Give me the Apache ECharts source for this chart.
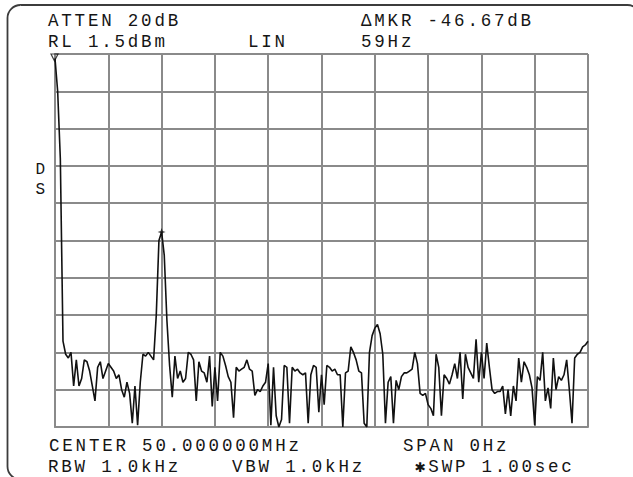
<!DOCTYPE html>
<html>
<head>
<meta charset="utf-8">
<script src="https://cdn.jsdelivr.net/npm/echarts@6/dist/echarts.min.js"></script>
<style>
html,body{margin:0;padding:0;background:#fff;}
#c{width:633px;height:477px;}
#c text{letter-spacing:2.8px;}
</style>
</head>
<body>
<div id="c"></div>
<script>
// Sweep: 1.00 sec, trace sampled every 5 ms (values in graticule divisions, LIN scale)
const sweepMs = 1000;
const sampleMs = 5;
const traceValues = [
  9.88, 9.0, 7.2, 2.3, 1.95, 1.85, 2.0, 1.1, 1.8, 1.1,
  1.3, 1.8, 1.75, 1.5, 1.1, 0.7, 1.6, 1.75, 1.3, 1.5,
  1.7, 1.6, 1.5, 1.3, 1.4, 1.0, 0.8, 1.2, 0.9, 0.1,
  1.1, 0.05, 1.2, 1.95, 1.9, 2.0, 1.9, 1.8, 3.0, 5.0,
  5.23, 4.6, 2.85, 1.65, 0.8, 1.9, 1.3, 1.5, 1.2, 1.3,
  2.0, 1.95, 1.8, 0.7, 1.75, 1.5, 1.45, 1.2, 1.9, 0.55,
  1.6, 0.7, 2.0, 1.9, 1.65, 1.35, 1.2, 0.25, 1.6, 1.5,
  1.55, 1.6, 1.8, 1.55, 1.5, 0.85, 1.0, 0.95, 1.1, 1.2,
  1.7, 0.05, 1.6, 0.3, 0.0, 0.2, 1.65, 1.6, 0.1, 1.6,
  1.5, 1.55, 1.45, 1.4, 1.45, 0.1, 1.4, 1.65, 1.6, 0.4,
  1.4, 0.6, 1.65, 1.6, 1.5, 1.55, 1.4, 1.4, 0.0, 1.45,
  1.5, 2.15, 2.0, 1.8, 1.5, 1.45, 0.1, 0.0, 2.0, 2.45,
  2.65, 2.75, 2.5, 1.95, 0.1, 1.2, 1.35, 0.1, 1.25, 1.0,
  1.35, 1.45, 1.45, 1.5, 1.55, 2.0, 1.7, 0.9, 0.85, 0.9,
  0.6, 0.5, 0.3, 1.95, 1.6, 0.3, 1.4, 1.3, 1.15, 1.4,
  1.7, 1.3, 2.0, 0.75, 1.95, 1.6, 1.45, 1.3, 2.35, 1.2,
  2.0, 1.3, 2.25, 1.6, 1.0, 0.9, 0.95, 0.95, 1.1, 0.35,
  1.0, 0.3, 1.1, 0.7, 1.85, 1.2, 1.75, 1.6, 1.4, 1.05,
  0.05, 1.35, 1.25, 2.0, 0.7, 1.05, 0.5, 1.85, 1.0, 1.35,
  1.25, 1.4, 1.8, 1.0, 0.1, 1.85, 1.95, 2.0, 2.15, 2.2, 2.3
];
const refMarkerIndex = 0;   // ▽ reference marker
const deltaMarkerIndex = 40; // ✦ delta marker (peak)
const xDivisions = 10;
const yDivisions = 10;

const headerTexts = ['ATTEN 20dB', '\u0394MKR -46.67dB', 'RL 1.5dBm', 'LIN', '59Hz'];
const footerTexts = ['CENTER 50.000000MHz', 'SPAN 0Hz', 'RBW 1.0kHz', 'VBW 1.0kHz', '\u2731SWP 1.00sec'];
const sideTexts = ['D', 'S'];

// layout (pixels) kept separate from data
const headerPos = [[48, 20.8], [361, 20.8], [48, 41.8], [248, 41.8], [361, 41.8]];
const footerPos = [[49, 445.5], [403, 445.5], [48, 467], [232, 467], [415, 467]];
const sidePos = [[35.5, 170], [35.5, 189.5]];

const tracePoints = traceValues.map((v, i) => [i * sampleMs, v]);

const font = '"Liberation Mono", "DejaVu Sans Mono", monospace';
const textColor = '#151515';
function txt(s, p, fontSpec) {
  return {
    type: 'text', x: p[0], y: p[1], silent: true,
    style: { text: s, fill: textColor, font: fontSpec || ('17.5px ' + font), textAlign: 'left', textVerticalAlign: 'middle' }
  };
}
const graphics = [
  { type: 'rect', silent: true, shape: { x: 7.5, y: 5, width: 633, height: 474.5, r: 13 },
    style: { fill: 'none', stroke: '#3c3c3c', lineWidth: 1.8 } }
];
headerTexts.forEach((s, i) => graphics.push(txt(s, headerPos[i])));
footerTexts.forEach((s, i) => graphics.push(txt(s, footerPos[i])));
sideTexts.forEach((s, i) => graphics.push(txt(s, sidePos[i], '16px "Liberation Mono", monospace')));

const gridLine = { color: '#8a8a8a', width: 2 };
const chart = echarts.init(document.getElementById('c'), null, { renderer: 'svg' });
chart.setOption({
  animation: false,
  backgroundColor: '#fff',
  grid: { left: 55, right: 45, top: 54, bottom: 50 },
  xAxis: {
    type: 'value', min: 0, max: sweepMs, interval: sweepMs / xDivisions,
    axisLine: { show: true, onZero: false, lineStyle: gridLine },
    axisTick: { show: false }, axisLabel: { show: false },
    splitLine: { show: true, showMinLine: true, showMaxLine: true, lineStyle: gridLine }
  },
  yAxis: {
    type: 'value', min: 0, max: yDivisions, interval: 1,
    axisLine: { show: true, onZero: false, lineStyle: gridLine },
    axisTick: { show: false }, axisLabel: { show: false },
    splitLine: { show: true, showMinLine: true, showMaxLine: true, lineStyle: gridLine }
  },
  series: [
    {
      type: 'line', data: tracePoints, showSymbol: false, silent: true,
      lineStyle: { color: '#111', width: 1.6 }, z: 3
    },
    {
      type: 'scatter', silent: true, z: 4,
      data: [tracePoints[refMarkerIndex]],
      symbol: 'triangle', symbolRotate: 180, symbolSize: 7, symbolOffset: [-0.5, -1],
      itemStyle: { color: 'rgba(255,255,255,0)', borderColor: '#111', borderWidth: 1.2 }
    },
    {
      type: 'scatter', silent: true, z: 4,
      data: [tracePoints[deltaMarkerIndex]],
      symbol: 'path://M0,-10 L2.5,-2.5 L10,0 L2.5,2.5 L0,10 L-2.5,2.5 L-10,0 L-2.5,-2.5 Z',
      symbolSize: 8,
      itemStyle: { color: '#111' }
    }
  ],
  graphic: graphics
});
</script>
</body>
</html>
